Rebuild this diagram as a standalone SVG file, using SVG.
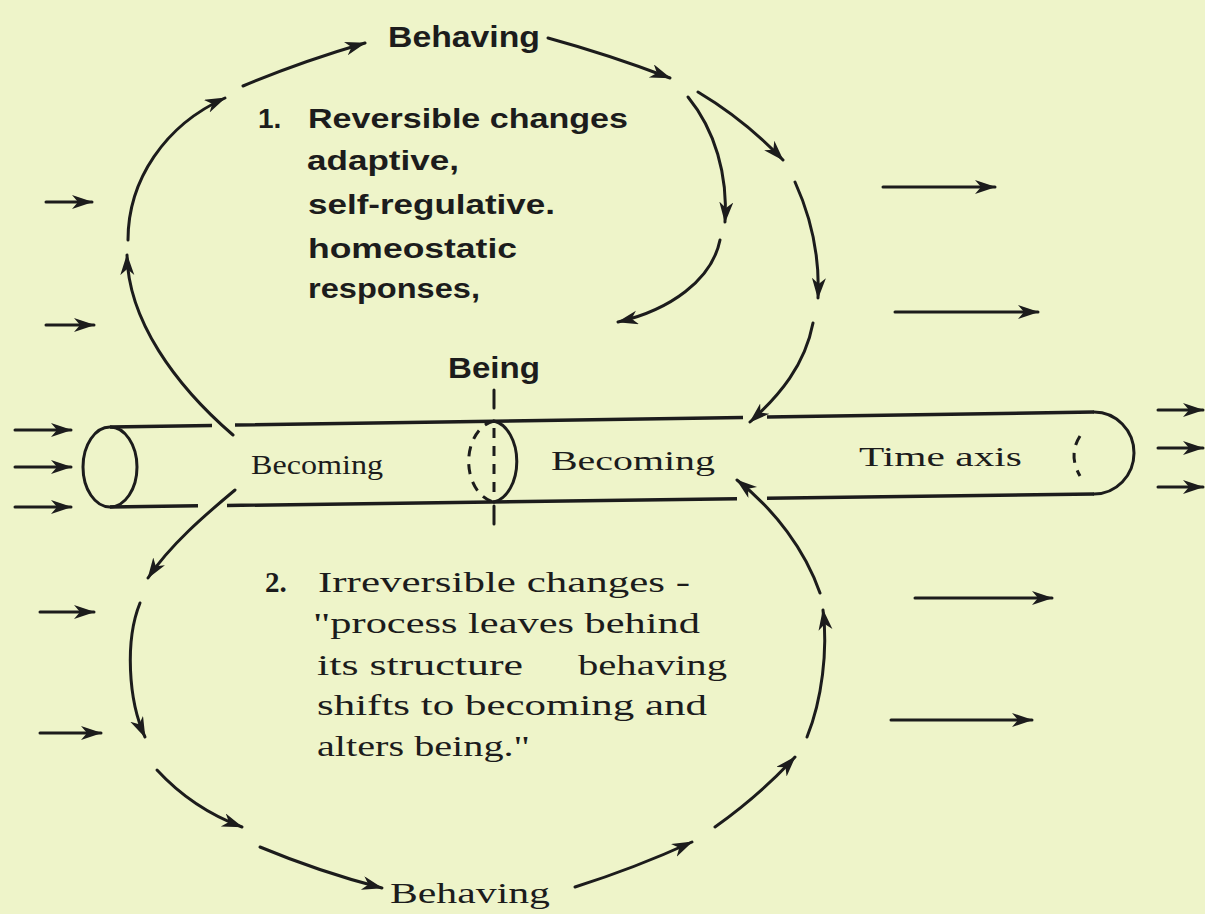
<svg xmlns="http://www.w3.org/2000/svg" width="1205" height="914" viewBox="0 0 1205 914">
<defs>
<marker id="ah" markerUnits="userSpaceOnUse" markerWidth="24" markerHeight="16" refX="20" refY="7" orient="auto">
<path d="M0,0 L21,7 L0,14 L6,7 Z" fill="#1c1c1c"/>
</marker>
<style>
.ln{fill:none;stroke:#1c1c1c;stroke-width:3;stroke-linecap:round}
.arr{fill:none;stroke:#1c1c1c;stroke-width:3;stroke-linecap:round;marker-end:url(#ah)}
.tube{fill:none;stroke:#1c1c1c;stroke-width:3.5;stroke-linecap:butt}
.dash{fill:none;stroke:#1c1c1c;stroke-width:3;stroke-dasharray:10 8}
.t1{font-family:"Liberation Sans",Arial,sans-serif;font-weight:bold;font-size:28px;fill:#1c1c1c}
.t2{font-family:"Liberation Serif","Times New Roman",serif;font-size:29px;fill:#1c1c1c}
.tc{font-family:"Liberation Serif","Times New Roman",serif;font-size:28px;fill:#1c1c1c}
.lab{font-family:"Liberation Sans",Arial,sans-serif;font-weight:bold;font-size:30px;fill:#1c1c1c}
</style>
</defs>
<rect x="0" y="0" width="1205" height="914" fill="#eef4c9"/>

<g id="cylinder">
<path class="tube" d="M110,427 L212,425.4 M235,425.1 L743,417.4 M767,417 L1094,412"/>
<path class="tube" d="M110,507 L198,505.8 M227,505.5 L737,498.7 M767,498.3 L1094,494"/>
<ellipse cx="110" cy="467" rx="27" ry="40" fill="none" stroke="#1c1c1c" stroke-width="3"/>
<path class="ln" d="M494,421 A27,41 0 0 1 494,502"/>
<path class="dash" d="M494,421 A30,41 0 0 0 494,502"/>
<path class="ln" d="M494,390 L494,408"/>
<path class="dash" d="M494,428 L494,500"/>
<path class="ln" d="M494,506 L494,524"/>
<path class="ln" d="M1094,412 A40,41 0 0 1 1094,494"/>
<path class="dash" d="M1080,436 Q1068,455 1080,476"/>
</g>

<g id="connectors">
<path class="arr" d="M233,435 C175,385 128,320 127,255"/>
<path class="arr" d="M128,240 C128,180 165,125 225,98"/>
<path class="arr" d="M243,86 Q300,62 365,43"/>
<path class="arr" d="M548,38 Q610,55 670,78"/>
<path class="arr" d="M688,97 C715,130 728,175 725,222"/>
<path class="arr" d="M720,240 C712,280 670,310 618,322"/>
<path class="arr" d="M698,92 Q745,120 783,160"/>
<path class="arr" d="M795,182 C810,215 820,255 818,298"/>
<path class="arr" d="M813,323 C805,365 780,395 750,422"/>
<path class="arr" d="M235,490 C205,515 170,545 148,578"/>
<path class="arr" d="M140,603 C125,640 128,700 145,737"/>
<path class="arr" d="M157,770 C180,795 210,815 242,827"/>
<path class="arr" d="M260,847 Q320,872 382,888"/>
<path class="arr" d="M575,887 Q635,868 692,842"/>
<path class="arr" d="M715,827 Q760,795 795,757"/>
<path class="arr" d="M807,737 C822,700 828,650 823,610"/>
<path class="arr" d="M820,593 C805,550 775,510 737,480"/>
<path class="arr" d="M46,202 L92,202"/>
<path class="arr" d="M46,325 L94,325"/>
<path class="arr" d="M15,430 L71,430"/>
<path class="arr" d="M15,467 L71,467"/>
<path class="arr" d="M15,507 L71,507"/>
<path class="arr" d="M40,612 L94,612"/>
<path class="arr" d="M40,733 L101,733"/>
<path class="arr" d="M883,187 L995,187"/>
<path class="arr" d="M895,312 L1038,312"/>
<path class="arr" d="M915,598 L1052,598"/>
<path class="arr" d="M891,720 L1032,720"/>
<path class="arr" d="M1158,410 L1203,410"/>
<path class="arr" d="M1158,448 L1203,448"/>
<path class="arr" d="M1158,487 L1203,487"/>
</g>

<g id="behaving-top"><text class="lab" x="388" y="47" textLength="152" lengthAdjust="spacingAndGlyphs">Behaving</text></g>
<g id="being"><text class="lab" x="448" y="378" textLength="92" lengthAdjust="spacingAndGlyphs">Being</text></g>
<g id="behaving-bottom"><text class="t2" x="390" y="903" font-size="30" textLength="160" lengthAdjust="spacingAndGlyphs">Behaving</text></g>

<g id="reversible">
<text class="t1" x="258" y="128">1.</text>
<text class="t1" x="308" y="128" textLength="320" lengthAdjust="spacingAndGlyphs">Reversible changes</text>
<text class="t1" x="307" y="170" textLength="152" lengthAdjust="spacingAndGlyphs">adaptive,</text>
<text class="t1" x="308" y="214" textLength="247" lengthAdjust="spacingAndGlyphs">self-regulative.</text>
<text class="t1" x="308" y="258" textLength="209" lengthAdjust="spacingAndGlyphs">homeostatic</text>
<text class="t1" x="308" y="298" textLength="172" lengthAdjust="spacingAndGlyphs">responses,</text>
</g>

<g id="irreversible">
<text class="t2" x="265" y="592" font-weight="bold">2.</text>
<text class="t2" x="318" y="592" textLength="372" lengthAdjust="spacingAndGlyphs">Irreversible changes -</text>
<text class="t2" x="313" y="633" textLength="387" lengthAdjust="spacingAndGlyphs">"process leaves behind</text>
<text class="t2" x="317" y="675" textLength="206" lengthAdjust="spacingAndGlyphs">its structure</text>
<text class="t2" x="578" y="675" textLength="149" lengthAdjust="spacingAndGlyphs">behaving</text>
<text class="t2" x="317" y="715" textLength="390" lengthAdjust="spacingAndGlyphs">shifts to becoming and</text>
<text class="t2" x="317" y="756" textLength="213" lengthAdjust="spacingAndGlyphs">alters being."</text>
</g>

<g id="tube-labels">
<text class="tc" x="251" y="474" textLength="132" lengthAdjust="spacingAndGlyphs">Becoming</text>
<text class="tc" x="551" y="470" textLength="164" lengthAdjust="spacingAndGlyphs">Becoming</text>
<text class="tc" x="859" y="466" textLength="163" lengthAdjust="spacingAndGlyphs">Time axis</text>
</g>
</svg>
